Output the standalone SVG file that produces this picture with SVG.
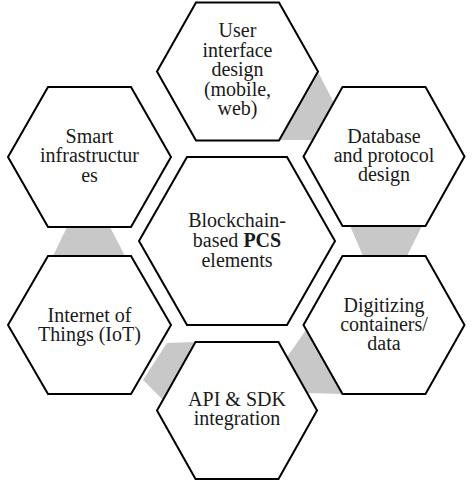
<svg xmlns="http://www.w3.org/2000/svg" width="474" height="487" viewBox="0 0 474 487">
<style>
.hex{fill:#ffffff;stroke:#000000;stroke-width:2;stroke-linejoin:miter}
.con{fill:#c8c8c8;stroke:none}
text{font-family:"Liberation Serif","Times New Roman",serif;font-size:20px;fill:#1a1a1a;text-anchor:middle}
</style>
<rect width="474" height="487" fill="#ffffff"/>
<g id="connectors">
<polygon class="con" points="318,72 334,103 313,140 279,140"/>
<polygon class="con" points="350,226 422,226 407,256 363,256"/>
<polygon class="con" points="306,330 342,394 307,393 287,357"/>
<polygon class="con" points="167,343 195,342 163,400 143,380"/>
<polygon class="con" points="67,227 110,227 125,256 53,256"/>
</g>
<g id="user-interface">
<polygon class="hex" points="196,2.5 279,2.5 318,71.5 279,140.5 196,140.5 157,71.5"/>
<text x="237.5" y="37">User</text>
<text x="237.5" y="57">interface</text>
<text x="237.5" y="76">design</text>
<text x="237.5" y="96">(mobile,</text>
<text x="237.5" y="115">web)</text>
</g>
<g id="database">
<polygon class="hex" points="342.5,87 425.5,87 464.5,156.5 425.5,226 342.5,226 303.5,156.5"/>
<text x="384" y="143">Database</text>
<text x="384" y="162">and protocol</text>
<text x="384" y="181">design</text>
</g>
<g id="smart">
<polygon class="hex" points="48,87 131,87 171,157 131,227 48,227 8,157"/>
<text x="89.5" y="143">Smart</text>
<text x="89.5" y="162">infrastructur</text>
<text x="89.5" y="181.5">es</text>
</g>
<g id="center">
<polygon class="hex" points="187,157 287,157 335,241 287,325 187,325 139,241"/>
<text x="237" y="227">Blockchain-</text>
<text x="237" y="247">based <tspan font-weight="bold">PCS</tspan></text>
<text x="237" y="267">elements</text>
</g>
<g id="iot">
<polygon class="hex" points="48,256 131,256 171,325 131,394 48,394 8,325"/>
<text x="89.5" y="322">Internet of</text>
<text x="89.5" y="341">Things (IoT)</text>
</g>
<g id="digitizing">
<polygon class="hex" points="342.5,256 425.5,256 464.5,325 425.5,394 342.5,394 303.5,325"/>
<text x="384" y="312">Digitizing</text>
<text x="384" y="331">containers/</text>
<text x="384" y="350">data</text>
</g>
<g id="api">
<polygon class="hex" points="195.5,342 278.5,342 317,410.5 278.5,479 195.5,479 157,410.5"/>
<text x="237" y="406">API &amp; SDK</text>
<text x="237" y="424.5">integration</text>
</g>
</svg>
